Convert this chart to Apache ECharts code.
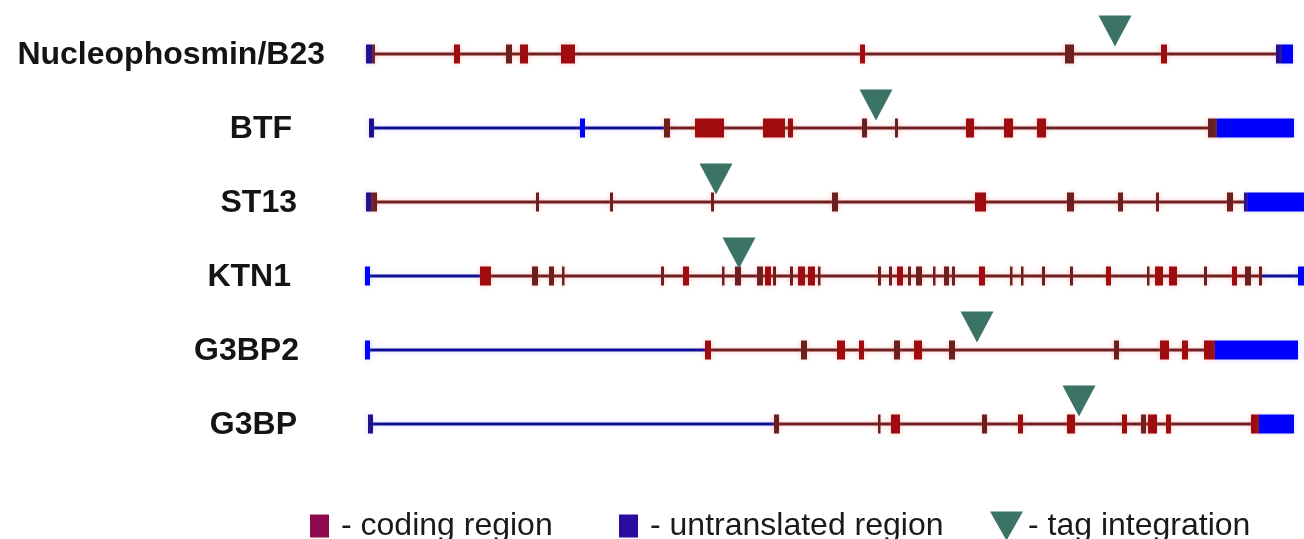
<!DOCTYPE html>
<html>
<head>
<meta charset="utf-8">
<script src="https://cdn.jsdelivr.net/npm/echarts@6/dist/echarts.min.js"></script>
<style>
  html, body { margin: 0; padding: 0; background: #fff; }
  #chart { width: 1304px; height: 539px; }
</style>
</head>
<body>
<div id="chart"></div>
<script>
// genes, top to bottom
const genes = ['Nucleophosmin/B23', 'BTF', 'ST13', 'KTN1', 'G3BP2', 'G3BP'];

// intron / backbone segments: [gene, start, end, kind]  (kind: 'cds' | 'utr')
const introns = [
  [0, 0, 916, 'cds'],
  [1, 4, 298, 'utr'], [1, 298, 851, 'cds'],
  [2, 0, 882, 'cds'],
  [3, 0, 114, 'utr'], [3, 114, 896, 'cds'], [3, 896, 936, 'utr'],
  [4, 0, 339, 'utr'], [4, 339, 849, 'cds'],
  [5, 3, 408, 'utr'], [5, 408, 893, 'cds']
];

// exons per gene: [start, end, kind]
// kind: c = coding (red), d = coding (dark), u = UTR (blue), v = UTR (dark blue)
const npmExons = [
  [0, 6, 'v'], [6, 9, 'd'], [88, 94, 'c'], [140, 146, 'd'], [154, 162, 'c'], [195, 209, 'c'],
  [494, 499, 'c'], [699, 708, 'd'], [795, 801, 'c'], [910, 916, 'v'], [916, 927, 'u']
];
const btfExons = [
  [3, 8, 'v'], [214, 219, 'u'], [298, 304, 'd'], [329, 358, 'c'], [397, 419, 'c'], [422, 427, 'c'],
  [496, 501, 'd'], [529, 532, 'd'], [600, 608, 'c'], [638, 647, 'c'], [671, 680, 'c'],
  [842, 851, 'd'], [851, 928, 'u']
];
const st13Exons = [
  [0, 5, 'v'], [5, 11, 'd'], [170, 173, 'd'], [244, 247, 'd'], [345, 348, 'd'], [466, 472, 'd'],
  [609, 620, 'c'], [701, 708, 'd'], [752, 757, 'd'], [790, 793, 'd'], [861, 867, 'd'],
  [878, 882, 'v'], [882, 938, 'u']
];
const ktn1Exons = [
  [-1, 4, 'u'], [114, 125, 'c'], [166, 172, 'd'], [183, 188, 'd'], [196, 198, 'd'], [295, 298, 'd'],
  [317, 323, 'c'], [356, 358, 'd'], [369, 375, 'd'], [391, 397, 'd'], [399, 405, 'c'], [407, 410, 'd'],
  [424, 427, 'd'], [432, 439, 'c'], [442, 449, 'c'], [452, 454, 'd'], [512, 515, 'd'], [523, 526, 'd'],
  [531, 537, 'c'], [542, 545, 'd'], [550, 556, 'd'], [567, 569, 'd'], [578, 583, 'd'], [586, 589, 'd'],
  [613, 619, 'c'], [644, 646, 'd'], [655, 657, 'd'], [676, 679, 'd'], [704, 707, 'd'], [740, 745, 'c'],
  [781, 783, 'd'], [789, 797, 'c'], [803, 811, 'c'], [838, 841, 'd'], [866, 871, 'c'], [879, 885, 'd'],
  [893, 896, 'd'], [932, 938, 'u']
];
const g3bp2Exons = [
  [-1, 4, 'u'], [339, 345, 'c'], [435, 441, 'd'], [471, 479, 'c'], [493, 498, 'c'], [528, 534, 'd'],
  [548, 556, 'c'], [583, 589, 'd'], [748, 753, 'd'], [794, 803, 'c'], [816, 822, 'c'],
  [838, 849, 'c'], [849, 932, 'u']
];
const g3bpExons = [
  [2, 7, 'v'], [408, 413, 'd'], [512, 514, 'd'], [525, 534, 'c'], [616, 621, 'd'], [652, 657, 'c'],
  [701, 709, 'c'], [756, 761, 'c'], [775, 780, 'd'], [782, 791, 'c'], [800, 805, 'c'],
  [885, 893, 'c'], [893, 928, 'u']
];

// tag integration sites, one per gene
const tagSites = [749, 510, 350, 373, 611, 713];

// layout: right edge of each gene label (px)
const labelRight = [325, 292, 297, 291, 299, 297];

const exonColor = { c: '#9e0c10', d: '#6b2020', u: '#0000ff', v: '#24108e' };
const lineColor = { cds: '#6e1e1e', utr: '#0d0d96' };
const haloColor = { c: 'rgba(255,90,90,0.35)', d: 'rgba(255,90,90,0.35)', u: 'rgba(120,120,255,0.3)', v: 'rgba(120,120,255,0.3)' };

const exonSets = [npmExons, btfExons, st13Exons, ktn1Exons, g3bp2Exons, g3bpExons];
const codingRows = [];
const utrRows = [];
exonSets.forEach((set, g) => {
  set.forEach(e => {
    const row = [g, e[0], e[1], e[2]];
    if (e[2] === 'u' || e[2] === 'v') utrRows.push(row); else codingRows.push(row);
  });
});

function blockRenderer(rows, h) {
  return function (params, api) {
    const r = rows[params.dataIndex];
    const a = api.coord([r[1], r[0]]);
    const b = api.coord([r[2], r[0]]);
    const w = Math.max(b[0] - a[0], 2.5);
    const isLine = r[3] === 'cds' || r[3] === 'utr';
    return {
      type: 'rect',
      shape: { x: a[0], y: a[1] - h / 2, width: w, height: h },
      style: {
        fill: isLine ? lineColor[r[3]] : exonColor[r[3]],
        shadowBlur: 5,
        shadowColor: isLine ? (r[3] === 'cds' ? 'rgba(255,90,90,0.3)' : 'rgba(120,120,255,0.25)') : haloColor[r[3]]
      }
    };
  };
}

const chart = echarts.init(document.getElementById('chart'));

const legendText = { fontSize: 32, fontFamily: '"Liberation Sans", Arial, sans-serif', color: '#1a1a1a' };

const option = {
  backgroundColor: '#ffffff',
  animation: false,
  grid: { left: 364, width: 940, top: 17, height: 444 },
  xAxis: { type: 'value', min: -2, max: 938, show: false },
  yAxis: { type: 'category', data: genes, inverse: true, show: false },
  legend: [
    {
      left: 305, top: 505, selectedMode: false, itemWidth: 33, itemHeight: 23,
      icon: 'path://M0,0h19v23h-19z',
      formatter: name => '- ' + name, textStyle: legendText,
      data: [{ name: 'coding region', itemStyle: { color: '#8c0a4c' } }]
    },
    {
      left: 614, top: 505, selectedMode: false, itemWidth: 33, itemHeight: 23,
      icon: 'path://M0,0h19v23h-19z',
      formatter: name => '- ' + name, textStyle: legendText,
      data: [{ name: 'untranslated region', itemStyle: { color: '#2c0c9e' } }]
    },
    {
      left: 985, top: 505, selectedMode: false, itemWidth: 33, itemHeight: 29,
      icon: 'path://M0,0L33,0L16.5,29Z',
      formatter: name => '- ' + name, textStyle: legendText,
      data: [{ name: 'tag integration', itemStyle: { color: '#3b7367' } }]
    }
  ],
  series: [
    {
      name: 'intron', type: 'custom', z: 1, clip: false,
      renderItem: blockRenderer(introns, 3),
      encode: { x: [1, 2], y: 0 },
      data: introns.map(r => [r[0], r[1], r[2]])
    },
    {
      name: 'coding region', type: 'custom', z: 2, clip: false,
      itemStyle: { color: '#8c0a4c' },
      renderItem: blockRenderer(codingRows, 19),
      encode: { x: [1, 2], y: 0 },
      data: codingRows.map(r => [r[0], r[1], r[2]])
    },
    {
      name: 'untranslated region', type: 'custom', z: 3, clip: false,
      itemStyle: { color: '#2c0c9e' },
      renderItem: blockRenderer(utrRows, 19),
      encode: { x: [1, 2], y: 0 },
      data: utrRows.map(r => [r[0], r[1], r[2]])
    },
    {
      name: 'tag integration', type: 'scatter', z: 4,
      symbol: 'path://M0,0L33,0L16.5,31Z',
      symbolSize: [33, 31],
      symbolOffset: [0, -23],
      itemStyle: { color: '#3b7367', opacity: 1 },
      data: tagSites.map((p, i) => [p, i])
    }
  ]
};

chart.setOption(option);

// gene names on the left
chart.setOption({
  graphic: genes.map((g, i) => ({
    type: 'text',
    x: labelRight[i],
    y: chart.convertToPixel({ yAxisIndex: 0 }, i) + 1,
    style: {
      text: g,
      align: 'right',
      verticalAlign: 'middle',
      fontSize: 32,
      fontWeight: 'bold',
      fontFamily: '"Liberation Sans", Arial, sans-serif',
      fill: '#141414'
    }
  }))
});
</script>
</body>
</html>
